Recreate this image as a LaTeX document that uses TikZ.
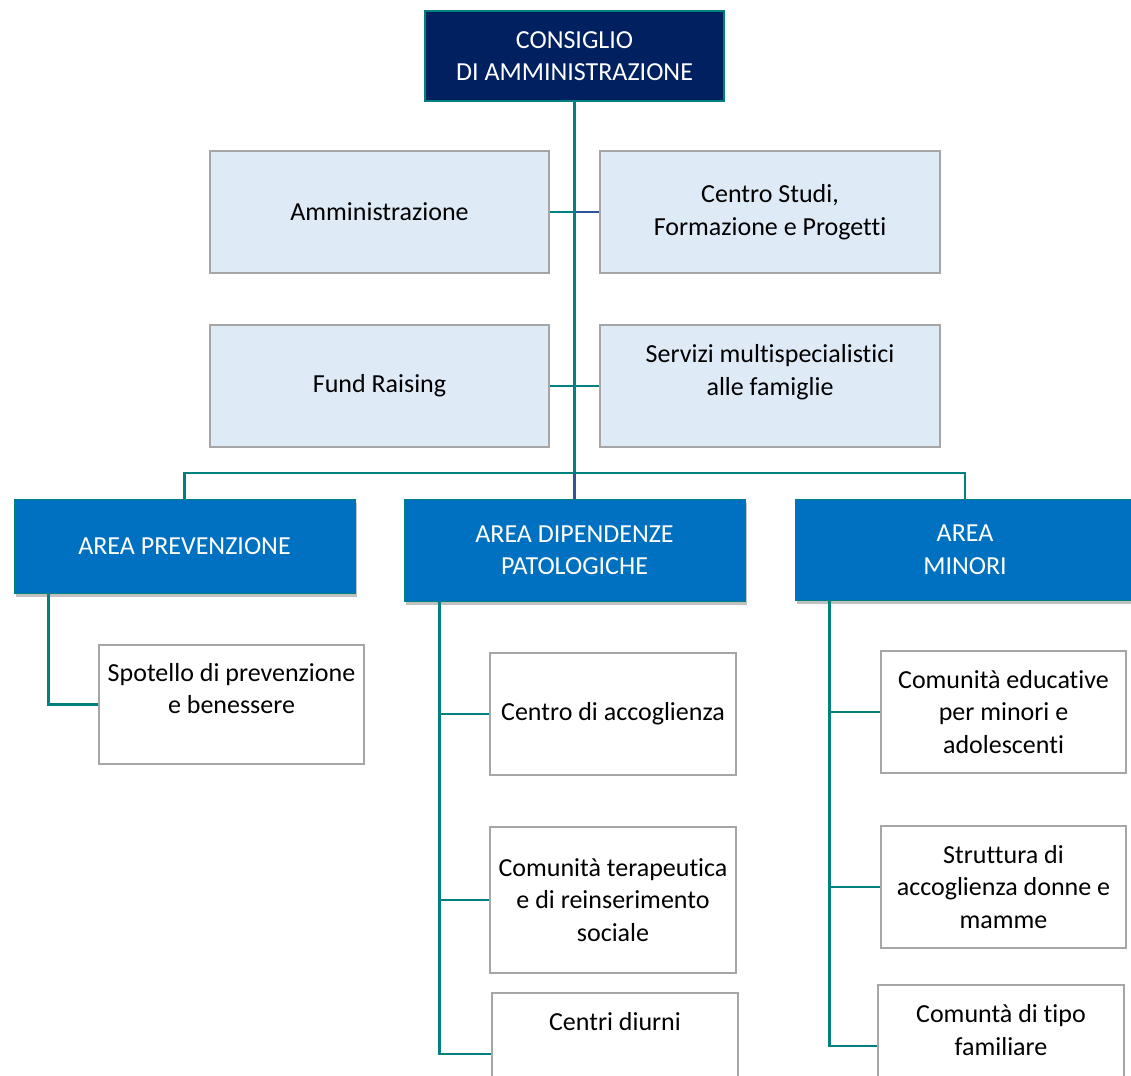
\documentclass[tikz,border=0pt]{standalone}
\usepackage{fontspec}
\setmainfont{Carlito}[Ligatures = NoCommon]
\usetikzlibrary{shadows}

\definecolor{navy}{RGB}{0,32,96}
\definecolor{areablue}{RGB}{0,112,192}
\definecolor{lightbox}{RGB}{222,234,246}
\definecolor{linkteal}{RGB}{0,128,128}
\definecolor{linkblue}{RGB}{47,85,151}
\definecolor{boxgray}{RGB}{166,166,166}

\begin{document}
\begin{tikzpicture}[x = 1pt, y = -1pt,
  every node/.style = {font = \fontsize{26}{32.5}\selectfont, align = center, inner sep = 0pt},
  topbox/.style = {draw = linkteal, line width = 1.5pt, fill = navy, text = white,
    minimum width = 299pt, minimum height = 90pt},
  staffbox/.style = {draw = boxgray, line width = 1.5pt, fill = lightbox,
    minimum width = 339pt, minimum height = 122pt},
  areabox/.style = {draw = linkteal, line width = 0.8pt, fill = areablue, text = white,
    minimum width = 341pt,
    drop shadow = {shadow xshift = 2pt, shadow yshift = -4pt, opacity = 0.35, fill = black!70}},
  servbox/.style = {draw = boxgray, line width = 1.2pt, fill = white,
    minimum width = 246pt, minimum height = 122pt},
  link/.style = {draw = linkteal, line width = 2.8pt},
  linkb/.style = {draw = linkblue, line width = 2.8pt}]
\useasboundingbox (0, 0) rectangle (1131, 1075);
\clip (0, 0) rectangle (1131, 1075);
\fill[white] (0, 0) rectangle (1131, 1075);

\node[topbox] (cda) at (574.5, 56) {CONSIGLIO\\DI AMMINISTRAZIONE};

\node[staffbox] (amm) at (379.5, 212) {Amministrazione};
\node[staffbox, minimum width = 340pt] (cstudi) at (770, 212) {Centro Studi,\\Formazione e Progetti};
\node[staffbox] (fund) at (379.5, 386) {Fund Raising};
\node[staffbox, minimum width = 340pt] (serv) at (770, 386) {Servizi multispecialistici\\alle famiglie\\~};

\coordinate (bus) at (574.5, 473);
\draw[link] (cda.south) -- (bus);
\draw[link] (amm.east) -- (amm.east -| cda.south);
\draw[linkb] (cstudi.west) -- (cstudi.west -| cda.south);
\draw[link] (fund.east) -- (serv.west);

\node[areabox, minimum height = 94pt] (prev) at (184.5, 546) {AREA PREVENZIONE};
\node[areabox, minimum height = 102pt] (dip) at (574.5, 550) {AREA DIPENDENZE\\PATOLOGICHE};
\node[areabox, minimum width = 346pt, minimum height = 101pt] (min) at (968, 549.5) {};
\node (minT) at (965, 549.5) {\color{white}AREA\\\color{white}MINORI};

\draw[link] (prev.north) |- (bus) -| (minT.north |- min.north);
\draw[linkb] (bus) -- (dip.north);

\node[servbox, minimum width = 265pt, minimum height = 119pt] (spot) at (231.5, 704.5) {Spotello di prevenzione\\e benessere\\~};
\node[servbox] (cacc) at (613, 714) {Centro di accoglienza};
\node[servbox, minimum height = 146pt] (cter) at (613, 900) {Comunità terapeutica\\e di reinserimento\\sociale};
\node[servbox] (cdiu) at (615, 1054) {Centri diurni\\~\\~};
\node[servbox, minimum width = 245pt] (ced) at (1003.5, 712) {Comunità educative\\per minori e\\adolescenti};
\node[servbox, minimum width = 245pt] (strut) at (1003.5, 887) {Struttura di\\accoglienza donne e\\mamme};
\node[servbox] (ctf) at (1001, 1046) {Comuntà di tipo\\familiare\\~};

\coordinate (prevA) at ([xshift = 35pt]prev.south west);
\coordinate (dipA) at ([xshift = 36pt]dip.south west);
\coordinate (minA) at ([xshift = 35pt]min.south west);
\draw[link] (prevA) |- (spot.west);
\draw[link] (dipA) |- (cdiu.west);
\draw[link] (cacc.west) -- (cacc.west -| dipA);
\draw[link] (cter.west) -- (cter.west -| dipA);
\draw[link] (minA) |- (ctf.west);
\draw[link] (ced.west) -- (ced.west -| minA);
\draw[link] (strut.west) -- (strut.west -| minA);
\end{tikzpicture}
\end{document}
